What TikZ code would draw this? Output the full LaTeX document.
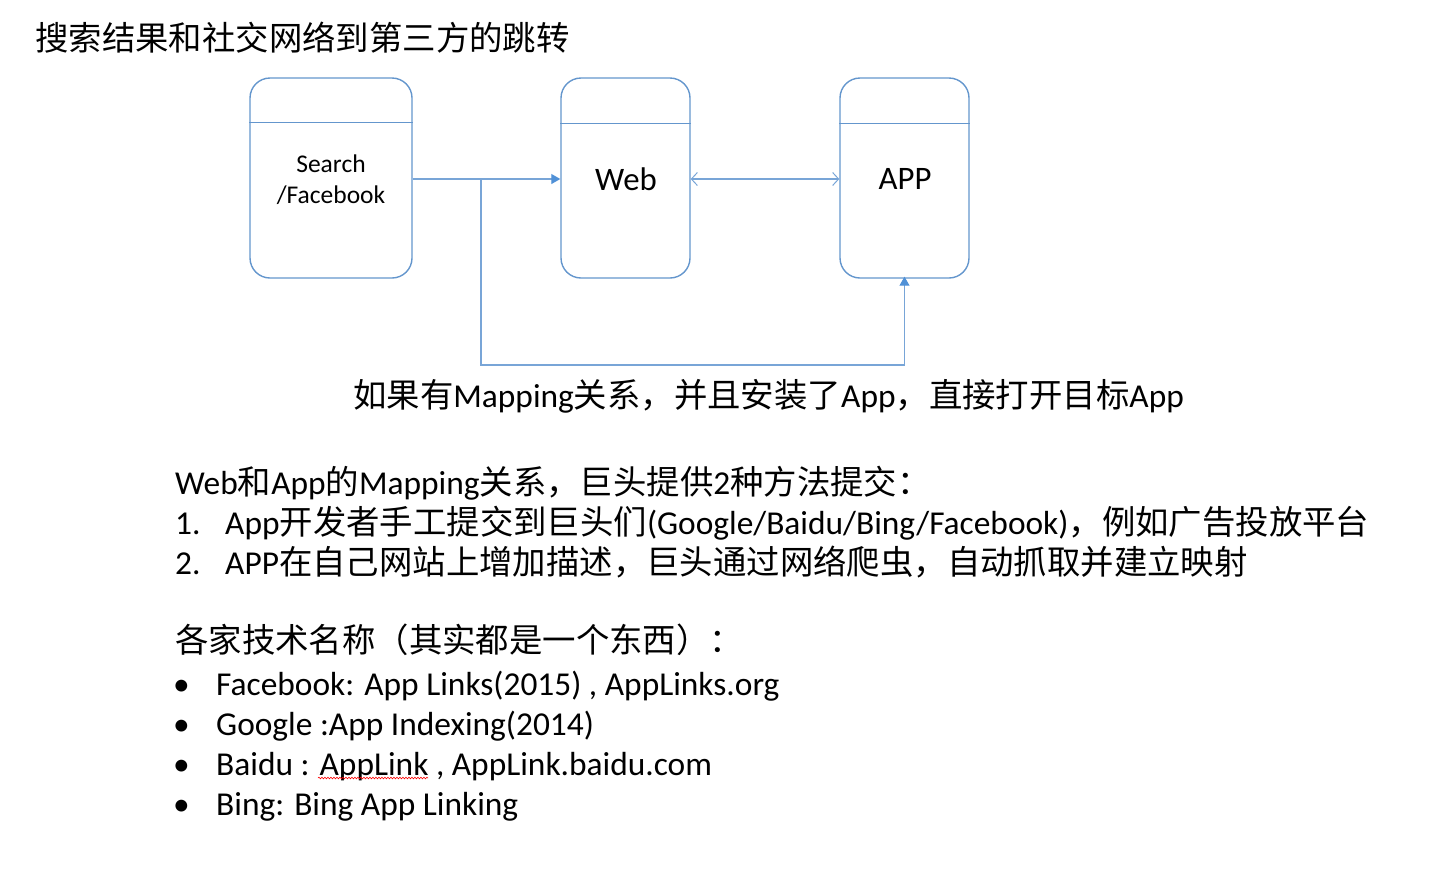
\documentclass[tikz,border=0pt]{standalone}
\usepackage{fontspec}
\setmainfont{Carlito}
\newfontfamily\cjk{Noto Sans CJK SC}
\usetikzlibrary{arrows.meta,decorations.pathmorphing}
\definecolor{boxblue}{RGB}{100,150,205}
\definecolor{lineblue}{RGB}{120,165,215}
\definecolor{tipblue}{RGB}{80,145,215}
\tikzset{
  box/.style={draw=boxblue,line width=1.4pt,rounded corners=20pt,minimum height=200pt,inner sep=0pt,align=center},
  divider/.style={draw=boxblue,line width=1pt},
  conn/.style={draw=lineblue,line width=1.1pt},
  filltip/.style={conn,-{Triangle[width=10pt,length=9pt,fill=tipblue,color=tipblue]}},
  opentip/.style={conn,{Straight Barb[length=6pt,width=13pt,line width=1pt]}-{Straight Barb[length=6pt,width=13pt,line width=1pt]}},
  txt/.style={anchor=base west,inner sep=0pt,font=\fontsize{33.4}{38}\selectfont},
}
\begin{document}
\begin{tikzpicture}[x=1pt,y=-1pt]
\useasboundingbox (0,0) rectangle (1440,876);
% title
\node[anchor=base west,inner sep=0pt,font=\fontsize{33.4}{38}\selectfont\cjk] (title) at (35,50) {搜索结果和社交网络到第三方的跳转};
% boxes
\node[box,minimum width=162pt] (s) at (331,178) {};
\node[box,minimum width=129pt] (w) at (625.5,178) {};
\node[box,minimum width=129pt] (a) at (904.5,178) {};
\draw[divider] ([yshift=-45pt]s.north west) -- ([yshift=-45pt]s.north east);
\draw[divider] ([yshift=-46pt]w.north west) -- ([yshift=-46pt]w.north east);
\draw[divider] ([yshift=-46pt]a.north west) -- ([yshift=-46pt]a.north east);
\node[font=\fontsize{25.5}{31}\selectfont,align=center] (stxt) at (331,180) {Search\\/Facebook};
\node[font=\fontsize{32.8}{36}\selectfont] (wtxt) at (626,179) {Web};
\node[font=\fontsize{32.8}{36}\selectfont] (atxt) at (905,179) {APP};
% connectors
\coordinate (br) at (481,179);
\coordinate (bc) at (481,365);
\draw[filltip] (s.east |- br) -- (w.west |- br);
\draw[opentip] (w.east |- br) -- (a.west |- br);
\draw[filltip] (br) -- (bc) -| ([yshift=2pt]a.south);
% label
\node[txt] (lbl) at (353,407) {{\cjk 如果有}Mapping{\cjk 关系，并且安装了}App{\cjk ，直接打开目标}App};
% body text
\node[txt] (t1) at (175,494) {Web{\cjk 和}App{\cjk 的}Mapping{\cjk 关系，巨头提供}2{\cjk 种方法提交：}};
\node[txt] (n1) at (175,534) {1.};
\node[txt] (t2) at (225,534) {App{\cjk 开发者手工提交到巨头们}(Google/Baidu/Bing/Facebook){\cjk ，例如广告投放平台}};
\node[txt] (n2) at (175,574) {2.};
\node[txt] (t3) at (225,574) {APP{\cjk 在自己网站上增加描述，巨头通过网络爬虫，自动抓取并建立映射}};
\node[txt] (t4) at (175,652) {{\cjk 各家技术名称（其实都是一个东西）：}};
\node[txt] (b1) at (173,695) {•};
\node[txt] (l1) at (216,695) {Facebook: App Links(2015) , AppLinks.org};
\node[txt] (b2) at (173,735) {•};
\node[txt] (l2) at (216,735) {Google :App Indexing(2014)};
\node[txt] (b3) at (173,775) {•};
\node[txt] (l3) at (216,775) {Baidu : AppLink , AppLink.baidu.com};
\node[txt] (b4) at (173,815) {•};
\node[txt] (l4) at (216,815) {Bing: Bing App Linking};
\draw[red,line width=0.6pt,decorate,decoration={snake,amplitude=0.8pt,segment length=3pt}] (318,778) -- (428,778);
\end{tikzpicture}
\end{document}
